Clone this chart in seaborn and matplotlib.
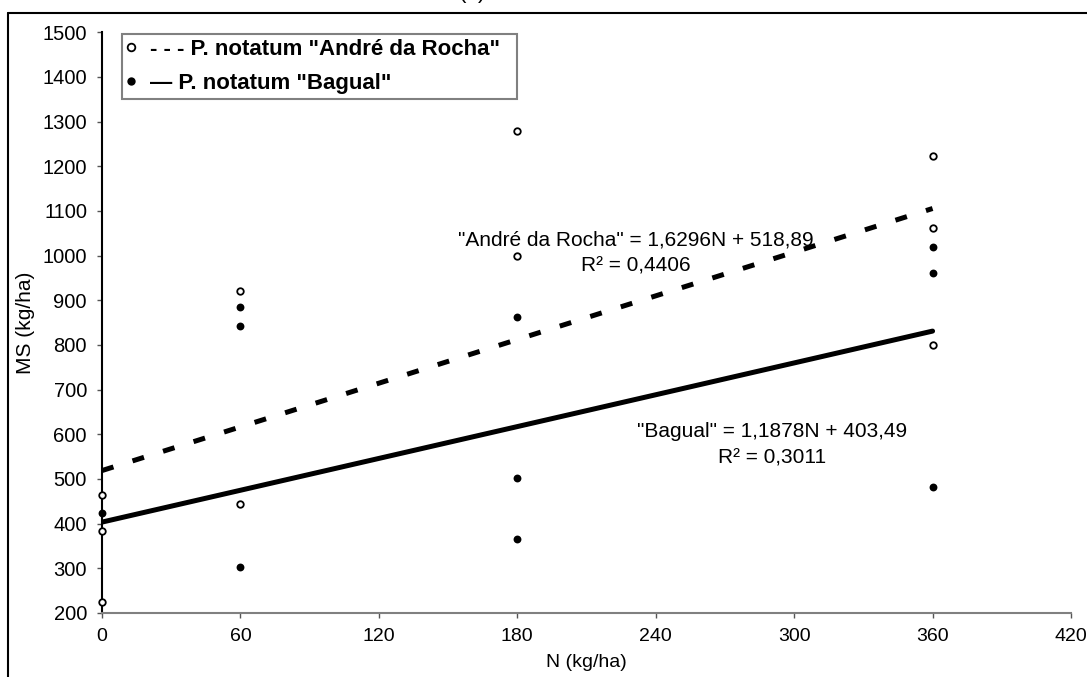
import numpy as np
import matplotlib
matplotlib.use("Agg")
import matplotlib.pyplot as plt
import seaborn as sns
from matplotlib.lines import Line2D

# ---- data ----
N_andre = [0, 0, 0, 60, 60, 180, 180, 360, 360, 360]
MS_andre = [465, 383, 225, 920, 444, 1280, 1000, 1222, 1061, 800]
N_bagual = [0, 60, 60, 60, 180, 180, 180, 360, 360, 360]
MS_bagual = [423, 884, 842, 303, 862, 503, 365, 1019, 961, 482]

slope_andre, intercept_andre = 1.6296, 518.89
slope_bagual, intercept_bagual = 1.1878, 403.49
line_N = np.array([0, 360])

eq_andre = ['"André da Rocha" = 1,6296N + 518,89', 'R\u00b2 = 0,4406']
eq_bagual = ['"Bagual" = 1,1878N + 403,49', 'R\u00b2 = 0,3011']
legend_labels = ['- - - P. notatum "André da Rocha"  ', '\u2014 P. notatum "Bagual"']
x_ticks = list(range(0, 421, 60))
y_ticks = list(range(200, 1501, 100))

# ---- style ----
sns.set_theme(style="white")
plt.rcParams['font.family'] = ['Liberation Sans', 'DejaVu Sans']
plt.rcParams['text.color'] = 'black'
plt.rcParams['axes.labelcolor'] = 'black'
plt.rcParams['xtick.color'] = 'black'
plt.rcParams['ytick.color'] = 'black'

W, H = 1087, 677
fig = plt.figure(figsize=(W / 100, H / 100), dpi=100)
fig.patch.set_facecolor('white')
ax = fig.add_axes([102 / W, (H - 613) / H, 969 / W, 580.7 / H])
ax.set_facecolor('white')

# regression lines
sns.lineplot(x=line_N, y=intercept_andre + slope_andre * line_N, ax=ax,
             color='black', lw=3.6, linestyle=(0, (2.4, 4.0)),
             dash_capstyle='butt', zorder=3)
sns.lineplot(x=line_N, y=intercept_bagual + slope_bagual * line_N, ax=ax,
             color='black', lw=3.6, solid_capstyle='round', zorder=3)

# points
sns.scatterplot(x=N_andre, y=MS_andre, ax=ax, marker='o', s=22,
                color='white', edgecolor='black', linewidth=1.3,
                clip_on=False, zorder=5, legend=False)
sns.scatterplot(x=N_bagual, y=MS_bagual, ax=ax, marker='o', s=32,
                color='black', edgecolor='black', linewidth=0,
                clip_on=False, zorder=5, legend=False)

ax.set_xlim(0, 420)
ax.set_ylim(200, 1500)
ax.set_xticks(x_ticks)
ax.set_yticks(y_ticks)
ax.tick_params(axis='both', which='major', direction='out', length=3.6,
               width=1, colors='#555555', labelcolor='black', labelsize=14,
               pad=7.2, bottom=True, left=True)
ax.tick_params(axis='y', labelsize=14.5)

for s in ['top', 'right']:
    ax.spines[s].set_visible(False)
ax.spines['left'].set_color('black')
ax.spines['left'].set_linewidth(1.5)
ax.spines['bottom'].set_color('#808080')
ax.spines['bottom'].set_linewidth(1.5)

ax.set_xlabel('N (kg/ha)', fontsize=14, va='baseline', color='black')
ax.xaxis.set_label_coords(0.5, (613 - 667) / 580.7)
ax.set_ylabel('MS (kg/ha)', fontsize=15, va='center', color='black')
ax.yaxis.set_label_coords((25.5 - 102) / 969, 0.5)

# equations
def px2data(xp, yp):
    return (xp - 102) / (969 / 420), 200 + (613 - yp) / (580.7 / 1300)

for (xp, yp), txt in zip([(636, 245), (636, 272)], eq_andre):
    x, y = px2data(xp, yp)
    ax.text(x, y, txt, ha='center', va='baseline', fontsize=15, color='black')
for (xp, yp), txt in zip([(772, 437), (772, 463)], eq_bagual):
    x, y = px2data(xp, yp)
    ax.text(x, y, txt, ha='center', va='baseline', fontsize=15, color='black')

# legend
handles = [
    Line2D([], [], marker='o', ls='none', markersize=5.5, markerfacecolor='white',
           markeredgecolor='black', markeredgewidth=1.3),
    Line2D([], [], marker='o', ls='none', markersize=6, markerfacecolor='black',
           markeredgecolor='black', markeredgewidth=0),
]
leg = ax.legend(handles, legend_labels, loc='upper left',
                bbox_to_anchor=(122 / W, 1 - 34 / H), bbox_transform=fig.transFigure,
                borderaxespad=0, prop={'weight': 'bold', 'size': 16},
                handlelength=0.4, handletextpad=0.62, borderpad=0.22,
                labelspacing=0.6, frameon=True, fancybox=False, framealpha=1,
                edgecolor='#808080')
leg.get_frame().set_linewidth(1.5)
for t in leg.get_texts():
    t.set_color('black')

# figure border (partially cropped in reference) and cropped title
fig.add_artist(Line2D([8 / W, 1], [1 - 12.5 / H] * 2, transform=fig.transFigure,
                      color='black', lw=1.5))
fig.add_artist(Line2D([8 / W, 8 / W], [0, 1 - 12.5 / H], transform=fig.transFigure,
                      color='black', lw=1.5))
fig.text(472 / W, 1 - 3 / H, '(a)', ha='center', va='bottom', fontsize=16)

fig.savefig('out.png', dpi=100, facecolor='white')
